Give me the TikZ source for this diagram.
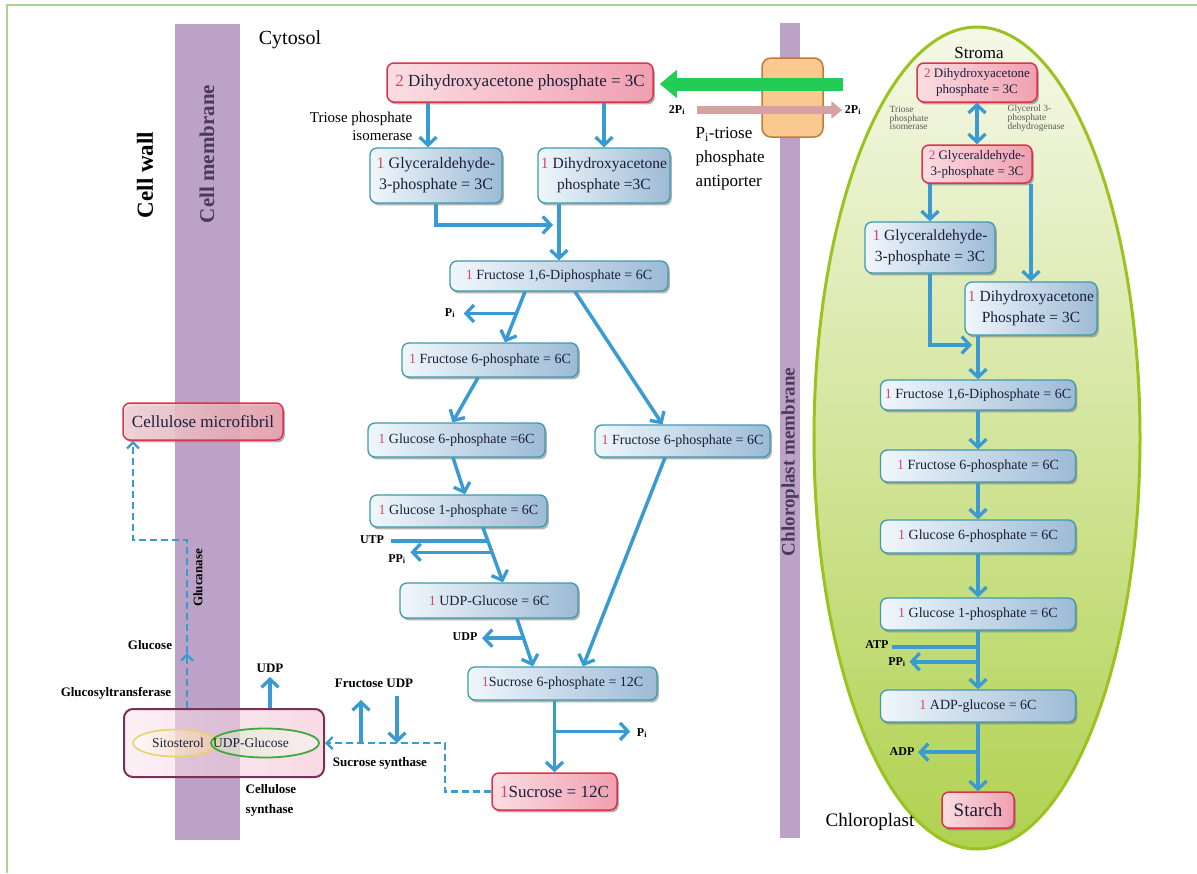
\documentclass[tikz,border=0pt]{standalone}
\usepackage{fontspec}
\setmainfont{Liberation Serif}
\usetikzlibrary{arrows.meta,shadows,calc,shapes.geometric}
\definecolor{flowblue}{HTML}{3A9AD2}
\definecolor{txtdark}{HTML}{1B1F3B}
\definecolor{numred}{HTML}{D04A6A}
\definecolor{boxred}{HTML}{D9344A}
\definecolor{pinkL}{HTML}{FBDDE2}
\definecolor{pinkR}{HTML}{F09FB0}
\definecolor{boxteal}{HTML}{3E9AAF}
\definecolor{blueL}{HTML}{F0F7FB}
\definecolor{blueR}{HTML}{9DBBD5}
\definecolor{membrane}{HTML}{BBA2C6}
\definecolor{membtxt}{HTML}{4A3A58}
\definecolor{framegreen}{HTML}{A8D890}
\definecolor{chlgreen}{HTML}{9BC31F}
\definecolor{chlTop}{HTML}{F6F8E8}
\definecolor{chlBot}{HTML}{B0D250}
\definecolor{antiF}{HTML}{F9C98F}
\definecolor{antiB}{HTML}{C27A38}
\definecolor{greenarr}{HTML}{22CC55}
\definecolor{pinkarr}{HTML}{D7A0A2}
\definecolor{synB}{HTML}{7B3055}
\definecolor{synL}{HTML}{F8E6EE}
\definecolor{synR}{HTML}{F3C2D2}
\definecolor{sitoB}{HTML}{E6D46A}
\definecolor{sitoF}{HTML}{F6CD92}
\definecolor{udpgB}{HTML}{3DAA3D}
\definecolor{udpgF}{HTML}{CDEBB8}
\definecolor{tinygray}{HTML}{5A5A5A}
\newcommand{\myfs}[2]{\fontsize{#1}{#2}\selectfont}
\newcommand{\boxnum}[1]{{\color{numred}#1}}
\tikzset{
  flowtip/.tip={Straight Barb[length=8pt,width=17pt,line width=3.3pt]},
  smalltip/.tip={Straight Barb[length=6pt,width=12pt,line width=2.4pt]},
  boxbase/.style={rounded corners=7pt, align=center, text=txtdark, inner sep=2pt,
     drop shadow={shadow xshift=1.8pt, shadow yshift=-2.4pt, fill=black!55, opacity=0.55}},
  pinkbox/.style={boxbase, draw=boxred, line width=1.5pt, left color=pinkL, right color=pinkR},
  bluebox/.style={boxbase, draw=boxteal, line width=1.3pt, left color=blueL, right color=blueR},
  flow/.style={draw=flowblue, line width=3.5pt, -flowtip},
  flowline/.style={draw=flowblue, line width=3.5pt},
  dflow/.style={draw=flowblue, line width=2.5pt, dash pattern=on 7pt off 4pt, -smalltip},
  lab/.style={inner sep=0.5pt, text=black, font=\bfseries\myfs{13}{15}},
  labs/.style={inner sep=0.5pt, text=black, font=\bfseries\myfs{12}{14}},
  bigtxt/.style={inner sep=0.5pt, text=black},
}
\begin{document}
\begin{tikzpicture}[x=1pt,y=-1pt]
\useasboundingbox (0,0) rectangle (1197,873);
% frame
\draw[framegreen, line width=1.2pt] (7,873) -- (7,5) -- (1197,5);
% membranes
\fill[membrane] (175,24) rectangle (240,840);
\fill[membrane] (780,23) rectangle (800,838);
% chloroplast
\path[draw=chlgreen, line width=3pt, top color=chlTop, bottom color=chlBot] (977,438) ellipse [x radius=163, y radius=411];
% antiporter
\node[draw=antiB, fill=antiF, line width=1.5pt, rounded corners=9pt, minimum width=61pt, minimum height=79pt] (anti) at (792.5,97.5) {};

% rotated labels
\node[bigtxt, rotate=90, font=\bfseries\myfs{23}{26}] (cellwall) at (145,175) {Cell wall};
\node[bigtxt, rotate=90, text=membtxt, font=\bfseries\myfs{21}{24}] (cellmem) at (207,154) {Cell membrane};
\node[bigtxt, rotate=90, text=membtxt, font=\bfseries\myfs{19}{22}] (chlmem) at (790,462) {Chloroplast membrane};
\node[bigtxt, font=\myfs{20}{24}] (cytosol) at (290,40) {Cytosol};
\node[bigtxt, font=\myfs{17}{20}] (stroma) at (979,53) {Stroma};
\node[bigtxt, font=\myfs{19}{22}] (chlL) at (870,822) {Chloroplast};

% transport labels
\node[labs] (pi2L) at (677,110) {2P\textsubscript{i}};
\node[labs] (pi2R) at (853,110) {2P\textsubscript{i}};
\node[bigtxt, align=left, anchor=west, font=\myfs{17}{24}] (antiL) at (695,159) {P\textsubscript{i}-triose\\phosphate\\antiporter};

% ---------------- cytosol boxes
\node[pinkbox, minimum width=266pt, minimum height=39pt, font=\myfs{17}{20}] (dhapT) at (520,82.5) {\boxnum{2} Dihydroxyacetone phosphate = 3C};
\node[bigtxt, align=right, anchor=east, font=\myfs{15}{18}] (tpi) at (413,126) {Triose phosphate\\isomerase};
\node[bluebox, minimum width=132pt, minimum height=55pt, font=\myfs{16}{21}] (gap1) at (436,175.5) {\boxnum{1} Glyceraldehyde-\\3-phosphate = 3C};
\node[bluebox, minimum width=132pt, minimum height=55pt, font=\myfs{15.5}{21}] (dhap1) at (604,175.5) {\boxnum{1} Dihydroxyacetone\\phosphate =3C};
\node[bluebox, minimum width=218pt, minimum height=30pt, font=\myfs{14}{16}] (fdp) at (559,276) {\boxnum{1} Fructose 1,6-Diphosphate = 6C};
\node[bluebox, minimum width=176pt, minimum height=34pt, font=\myfs{14}{16}] (f6pL) at (490,360) {\boxnum{1} Fructose 6-phosphate = 6C};
\node[bluebox, minimum width=177pt, minimum height=34pt, font=\myfs{14}{16}] (g6p) at (456.5,440) {\boxnum{1} Glucose 6-phosphate =6C};
\node[bluebox, minimum width=175pt, minimum height=32pt, font=\myfs{14}{16}] (f6pR) at (682.5,441) {\boxnum{1} Fructose 6-phosphate = 6C};
\node[bluebox, minimum width=177pt, minimum height=32pt, font=\myfs{14}{16}] (g1p) at (458.5,511) {\boxnum{1} Glucose 1-phosphate = 6C};
\node[bluebox, minimum width=178pt, minimum height=35pt, font=\myfs{14}{16}] (udpg) at (489,600.5) {\boxnum{1} UDP-Glucose = 6C};
\node[bluebox, minimum width=189pt, minimum height=33pt, font=\myfs{14}{16}] (s6p) at (562.5,683.5) {\boxnum{1}Sucrose 6-phosphate = 12C};
\node[pinkbox, minimum width=125pt, minimum height=37pt, font=\myfs{17}{20}] (suc) at (554.5,791.5) {\boxnum{1}Sucrose = 12C};

% cellulose side
\node[pinkbox, minimum width=160pt, minimum height=37pt, font=\myfs{17}{20}, fill opacity=0.8, text opacity=1] (cmf) at (203,421.5) {Cellulose microfibril};
\node[draw=synB, line width=2pt, rounded corners=9pt, left color=synL, right color=synR, fill opacity=0.6, draw opacity=1, minimum width=200pt, minimum height=68pt] (csyn) at (224,743) {};
\node[ellipse, draw=sitoB, line width=1.6pt, left color=white, right color=sitoF, fill opacity=0.6, draw opacity=1, minimum width=86pt, minimum height=27pt] (sito) at (176,743) {};
\node[ellipse, draw=udpgB, line width=1.8pt, left color=udpgF, right color=white, fill opacity=0.45, draw opacity=1, minimum width=108pt, minimum height=29pt] (udpgE) at (265,743) {};
\node[inner sep=0.5pt, text=txtdark, font=\myfs{13.5}{16}] (sitoT) at (178,743) {Sitosterol};
\node[inner sep=0.5pt, text=txtdark, font=\myfs{13.5}{16}] (udpgT) at (251,743) {UDP-Glucose};
\node[lab, align=left, anchor=west, font=\bfseries\myfs{13}{20}] (csynL) at (245,800) {Cellulose\\synthase};
\node[lab] (udpL1) at (270,668) {UDP};
\node[lab] (glcL) at (150,645) {Glucose};
\node[lab] (gtfL) at (116,693) {Glucosyltransferase};
\node[lab, rotate=90] (glucanase) at (198,578) {Glucanase};
\node[lab] (fuL) at (374,683) {Fructose UDP};
\node[lab] (ssL) at (380,763) {Sucrose synthase};

% ---------------- chloroplast boxes
\node[pinkbox, minimum width=120pt, minimum height=39pt, font=\myfs{13}{16}] (cdhap) at (977,82.5) {\boxnum{2} Dihydroxyacetone\\phosphate = 3C};
\node[pinkbox, minimum width=110pt, minimum height=38pt, font=\myfs{13}{16}] (cgap2) at (977,164) {\boxnum{2} Glyceraldehyde-\\3-phosphate = 3C};
\node[inner sep=0.5pt, text=tinygray, align=left, anchor=west, font=\myfs{9.5}{8.8}] (ctpi) at (889,118) {Triose\\phosphate\\isomerase};
\node[inner sep=0.5pt, text=tinygray, align=left, anchor=west, font=\myfs{9.5}{8.8}] (cg3p) at (1007,118) {Glycerol 3-\\phosphate\\dehydrogenase};
\node[bluebox, minimum width=130pt, minimum height=51pt, font=\myfs{15.5}{21}] (cgap1) at (930,247.5) {\boxnum{1} Glyceraldehyde-\\3-phosphate = 3C};
\node[bluebox, minimum width=132pt, minimum height=53pt, font=\myfs{15.5}{21}] (cdhap1) at (1031,308.5) {\boxnum{1} Dihydroxyacetone\\Phosphate = 3C};
\node[bluebox, minimum width=195pt, minimum height=30pt, font=\myfs{14}{16}] (cfdp) at (978,395) {\boxnum{1} Fructose 1,6-Diphosphate = 6C};
\node[bluebox, minimum width=195pt, minimum height=32pt, font=\myfs{14}{16}] (cf6p) at (978,466) {\boxnum{1} Fructose  6-phosphate = 6C};
\node[bluebox, minimum width=195pt, minimum height=33pt, font=\myfs{14}{16}] (cg6p) at (978,536.5) {\boxnum{1} Glucose  6-phosphate = 6C};
\node[bluebox, minimum width=195pt, minimum height=32pt, font=\myfs{14}{16}] (cg1p) at (978,614) {\boxnum{1} Glucose  1-phosphate = 6C};
\node[bluebox, minimum width=195pt, minimum height=32pt, font=\myfs{14}{16}] (cadpg) at (978,706) {\boxnum{1} ADP-glucose = 6C};
\node[pinkbox, minimum width=72pt, minimum height=36pt, font=\myfs{19}{22}] (starch) at (978,810) {Starch};

% transport arrows (on top of antiporter)
\coordinate (gaS) at (843,84);
\draw[greenarr, line width=13pt, -{Triangle[length=17pt,width=27pt]}, shorten >=6pt] (gaS) -- (dhapT.east |- gaS);
\draw[pinkarr, line width=8pt, -{Triangle[length=11pt,width=17pt]}, shorten <=11pt, shorten >=2pt] (pi2L.east) -- (pi2R.west);

% ---------------- cytosol connectors
\draw[flow] ([xshift=-8pt]gap1.north |- dhapT.south) -- ([xshift=-8pt]gap1.north);
\draw[flow] (dhap1.north |- dhapT.south) -- (dhap1.north);
\coordinate (j1) at (553,225);
\draw[flow] (gap1.south) |- (j1);
\draw[flow] (dhap1.south -| fdp.north) -- (fdp.north);

\coordinate (fdpA) at ([xshift=-34pt]fdp.south);
\coordinate (f6pA) at ([xshift=15pt]f6pL.north);
\draw[flow] (fdpA) -- (f6pA);
\coordinate (piA) at ($(fdpA)!0.43!(f6pA)$);
\node[labs] (piAl) at (450,313) {P\textsubscript{i}};
\draw[flow, shorten >=8pt] (piA) -- (piA -| piAl.east);

\draw[flow] ([xshift=16pt]fdp.south) -- ([xshift=-20pt]f6pR.north);
\draw[flow] ([xshift=-12pt]f6pL.south) -- ([xshift=-4pt]g6p.north);
\draw[flow] ([xshift=-3.5pt]g6p.south) -- ([xshift=6.5pt]g1p.north);

\coordinate (g1pA) at ([xshift=24.5pt]g1p.south);
\coordinate (udpgA) at ([xshift=14pt]udpg.north);
\draw[flow] (g1pA) -- (udpgA);
\coordinate (utpP) at ($(g1pA)!0.24!(udpgA)$);
\node[labs] (utpL) at (372,540) {UTP};
\draw[flowline] ([xshift=6pt]utpL.east |- utpP) -- (utpP);
\coordinate (ppP) at ($(g1pA)!0.45!(udpgA)$);
\node[labs] (ppL) at (397,559) {PP\textsubscript{i}};
\draw[flow, shorten >=4pt] (ppP) -- (ppP -| ppL.east);

\coordinate (udpgB) at ([xshift=28pt]udpg.south);
\coordinate (s6pA) at ([xshift=-29.5pt]s6p.north);
\draw[flow] (udpgB) -- (s6pA);
\coordinate (udpP) at ($(udpgB)!0.41!(s6pA)$);
\node[labs] (udpL2) at (465,637) {UDP};
\draw[flow, shorten >=4pt] (udpP) -- (udpP -| udpL2.east);

\draw[flow] ([xshift=-17.5pt]f6pR.south) -- ([xshift=20.5pt]s6p.north);
\coordinate (s6pB) at (s6p.south -| suc.north);
\draw[flow] (s6pB) -- (suc.north);
\coordinate (piB) at ($(s6pB)!0.43!(suc.north)$);
\node[labs] (piBl) at (642,733) {P\textsubscript{i}};
\draw[flow, shorten >=6pt] (piB) -- (piB -| piBl.west);

% dashed sucrose synthase route
\coordinate (dc) at (445,743);
\draw[dflow] (suc.west) -| (dc) -- (csyn.east);
\coordinate (fruB) at (361,743);
\coordinate (fruT) at (361,700);
\draw[flow] (fruB) -- (fruT);
\coordinate (udT) at (397,696);
\coordinate (udB) at (397,743);
\draw[flow] (udT) -- (udB);

% cellulose synthase outputs
\draw[flow] (csyn.north -| udpL1) -- ([yshift=-4pt]udpL1.south);
\coordinate (gA) at (187,653);
\draw[dflow] (csyn.north -| gA) -- (gA);
\coordinate (gB) at (187,540);
\draw[dflow] (gA) -- (gB) -| ([xshift=-70pt]cmf.south);

% ---------------- chloroplast connectors
\draw[flow, flowtip-flowtip] (cdhap.south) -- (cgap2.north);
\draw[flow] (cgap2.south -| cgap1.north) -- (cgap1.north);
\draw[flow] (cgap2.south -| cdhap1.north) -- (cdhap1.north);
\coordinate (cj) at (972,345);
\draw[flow] (cgap1.south) |- (cj);
\draw[flow] (cdhap1.south -| cfdp.north) -- (cfdp.north);
\draw[flow] (cfdp.south) -- (cf6p.north);
\draw[flow] (cf6p.south) -- (cg6p.north);
\draw[flow] (cg6p.south) -- (cg1p.north);
\draw[flow] (cg1p.south) -- (cadpg.north);
\coordinate (atpP) at ($(cg1p.south)!0.28!(cadpg.north)$);
\node[labs] (atpL) at (877,645) {ATP};
\draw[flowline] ([xshift=3pt]atpL.east |- atpP) -- (atpP);
\coordinate (cppP) at ($(cg1p.south)!0.53!(cadpg.north)$);
\node[labs] (cppL) at (897,662) {PP\textsubscript{i}};
\draw[flow, shorten >=3pt] (cppP) -- (cppP -| cppL.east);
\draw[flow] (cadpg.south) -- (starch.north);
\coordinate (adpP) at ($(cadpg.south)!0.43!(starch.north)$);
\node[labs] (adpL) at (902,752) {ADP};
\draw[flow, shorten >=3pt] (adpP) -- (adpP -| adpL.east);
\end{tikzpicture}
\end{document}
